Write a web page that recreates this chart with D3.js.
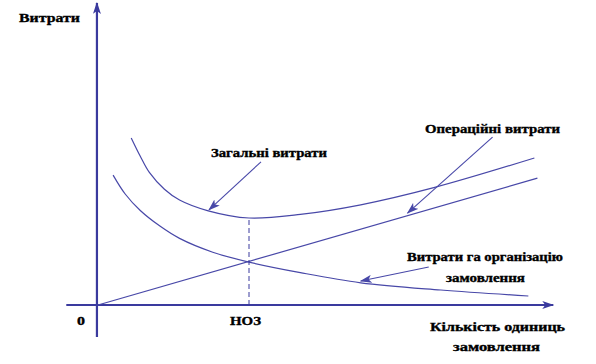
<!DOCTYPE html>
<html>
<head>
<meta charset="utf-8">
<script src="https://cdn.jsdelivr.net/npm/d3@7"></script>
<style>
  body { margin: 0; background: #fff; }
  .lbl { font-family: "Liberation Serif", "Times New Roman", serif; font-weight: bold; fill: #000; stroke: #000; stroke-width: 0.35px; }
</style>
</head>
<body>
<div id="chart"></div>
<script>
// chart size
var svgWidth = 596;
var svgHeight = 364;

// data (quantity, cost)
var orderQty = [1.0, 1.8, 2.8, 4.1, 5.4, 7.6, 10, 13.4, 17.4, 22.7, 28.5];
var orderCost = [43.3, 37, 31.5, 26.3, 22.2, 17.6, 14.3, 10.8, 7.4, 5, 3];

var totalQty = [2.2, 2.8, 3.4, 4.4, 5.4, 7.3, 10, 13.4, 17.4, 22.3, 28.9];
var totalCost = [55.7, 49.6, 44.2, 38.6, 35, 31.4, 29, 30.2, 33.4, 39.2, 49];

var operQty = [0, 29.1];
var operCost = [0, 42.3];

var eoq = 10;
var eoqCost = 29;

// tick labels
var tickLabels = ["0", "НОЗ"];

var colorAxis = "#3a3a9e";
var colorLine = "#4848a8";

// scales
var xScale = d3.scaleLinear().domain([0, 30]).range([98, 551]);
var yScale = d3.scaleLinear().domain([0, 100]).range([305, 5]);

var svg = d3.select("#chart")
    .append("svg")
    .attr("width", svgWidth)
    .attr("height", svgHeight);

// arrow markers
var defs = svg.append("defs");
[["axisArrow", colorAxis], ["noteArrow", colorLine]].forEach(function(m) {
    defs.append("marker")
        .attr("id", m[0])
        .attr("viewBox", "0 0 12 8")
        .attr("refX", 11).attr("refY", 4)
        .attr("markerWidth", 12).attr("markerHeight", 8)
        .attr("markerUnits", "userSpaceOnUse")
        .attr("orient", "auto")
        .append("path")
        .attr("d", "M0,0 L12,4 L0,8 L3,4 Z")
        .attr("fill", m[1]);
});

// axes
svg.append("line")
    .attr("x1", xScale(-2.1)).attr("y1", yScale(0))
    .attr("x2", xScale(30.15)).attr("y2", yScale(0))
    .attr("stroke", colorAxis).attr("stroke-width", 2.2)
    .attr("marker-end", "url(#axisArrow)");

svg.append("line")
    .attr("x1", xScale(-0.07)).attr("y1", yScale(-10.7))
    .attr("x2", xScale(-0.07)).attr("y2", yScale(100.7))
    .attr("stroke", colorAxis).attr("stroke-width", 2.2)
    .attr("marker-end", "url(#axisArrow)");

var line = d3.line()
    .x(d => xScale(d[0]))
    .y(d => yScale(d[1]))
    .curve(d3.curveCatmullRom.alpha(0.5));

function drawSeries(qs, cs) {
    svg.append("path")
        .datum(qs.map((q, i) => [q, cs[i]]))
        .attr("d", line)
        .attr("fill", "none")
        .attr("stroke", colorLine)
        .attr("stroke-width", 1.2);
}

drawSeries(orderQty, orderCost);
drawSeries(totalQty, totalCost);
drawSeries(operQty, operCost);

// dashed line at EOQ
svg.append("line")
    .attr("x1", xScale(eoq)).attr("y1", yScale(0))
    .attr("x2", xScale(eoq)).attr("y2", yScale(eoqCost))
    .attr("stroke", colorAxis).attr("stroke-width", 1)
    .attr("stroke-dasharray", "5,3");

// annotation arrows: tip on the curve, tail offset in pixels
function note(q, c, dx, dy) {
    svg.append("line")
        .attr("x1", xScale(q) + dx).attr("y1", yScale(c) + dy)
        .attr("x2", xScale(q)).attr("y2", yScale(c))
        .attr("stroke", colorLine).attr("stroke-width", 1.1)
        .attr("marker-end", "url(#noteArrow)");
}
note(7.35, 31.7, 52, -48);
note(20.5, 30.6, 85, -76);
note(17.4, 8, 68, -14);

// labels
function label(x, y, txt, size, len) {
    var t = svg.append("text")
        .attr("class", "lbl")
        .attr("x", x).attr("y", y)
        .style("font-size", size + "px")
        .text(txt);
    if (len) t.attr("textLength", len).attr("lengthAdjust", "spacingAndGlyphs");
}

label(19, 22, "Витрати", 13, 61);
label(211, 157, "Загальні витрати", 12.5, 116);
label(425, 133, "Операційні витрати", 12.5, 135);
label(407, 261, "Витрати га організацію", 12.5, 156);
label(446, 282, "замовлення", 12.5, 79);
label(430, 331, "Кількість  одиниць", 12.5, 135);
label(453, 351, "замовлення", 12.5, 87);

// tick labels under the x axis
label(xScale(0) - 21, 325, tickLabels[0], 13, 8);
label(xScale(eoq) - 19, 325, tickLabels[1], 13, 31);
</script>
</body>
</html>
